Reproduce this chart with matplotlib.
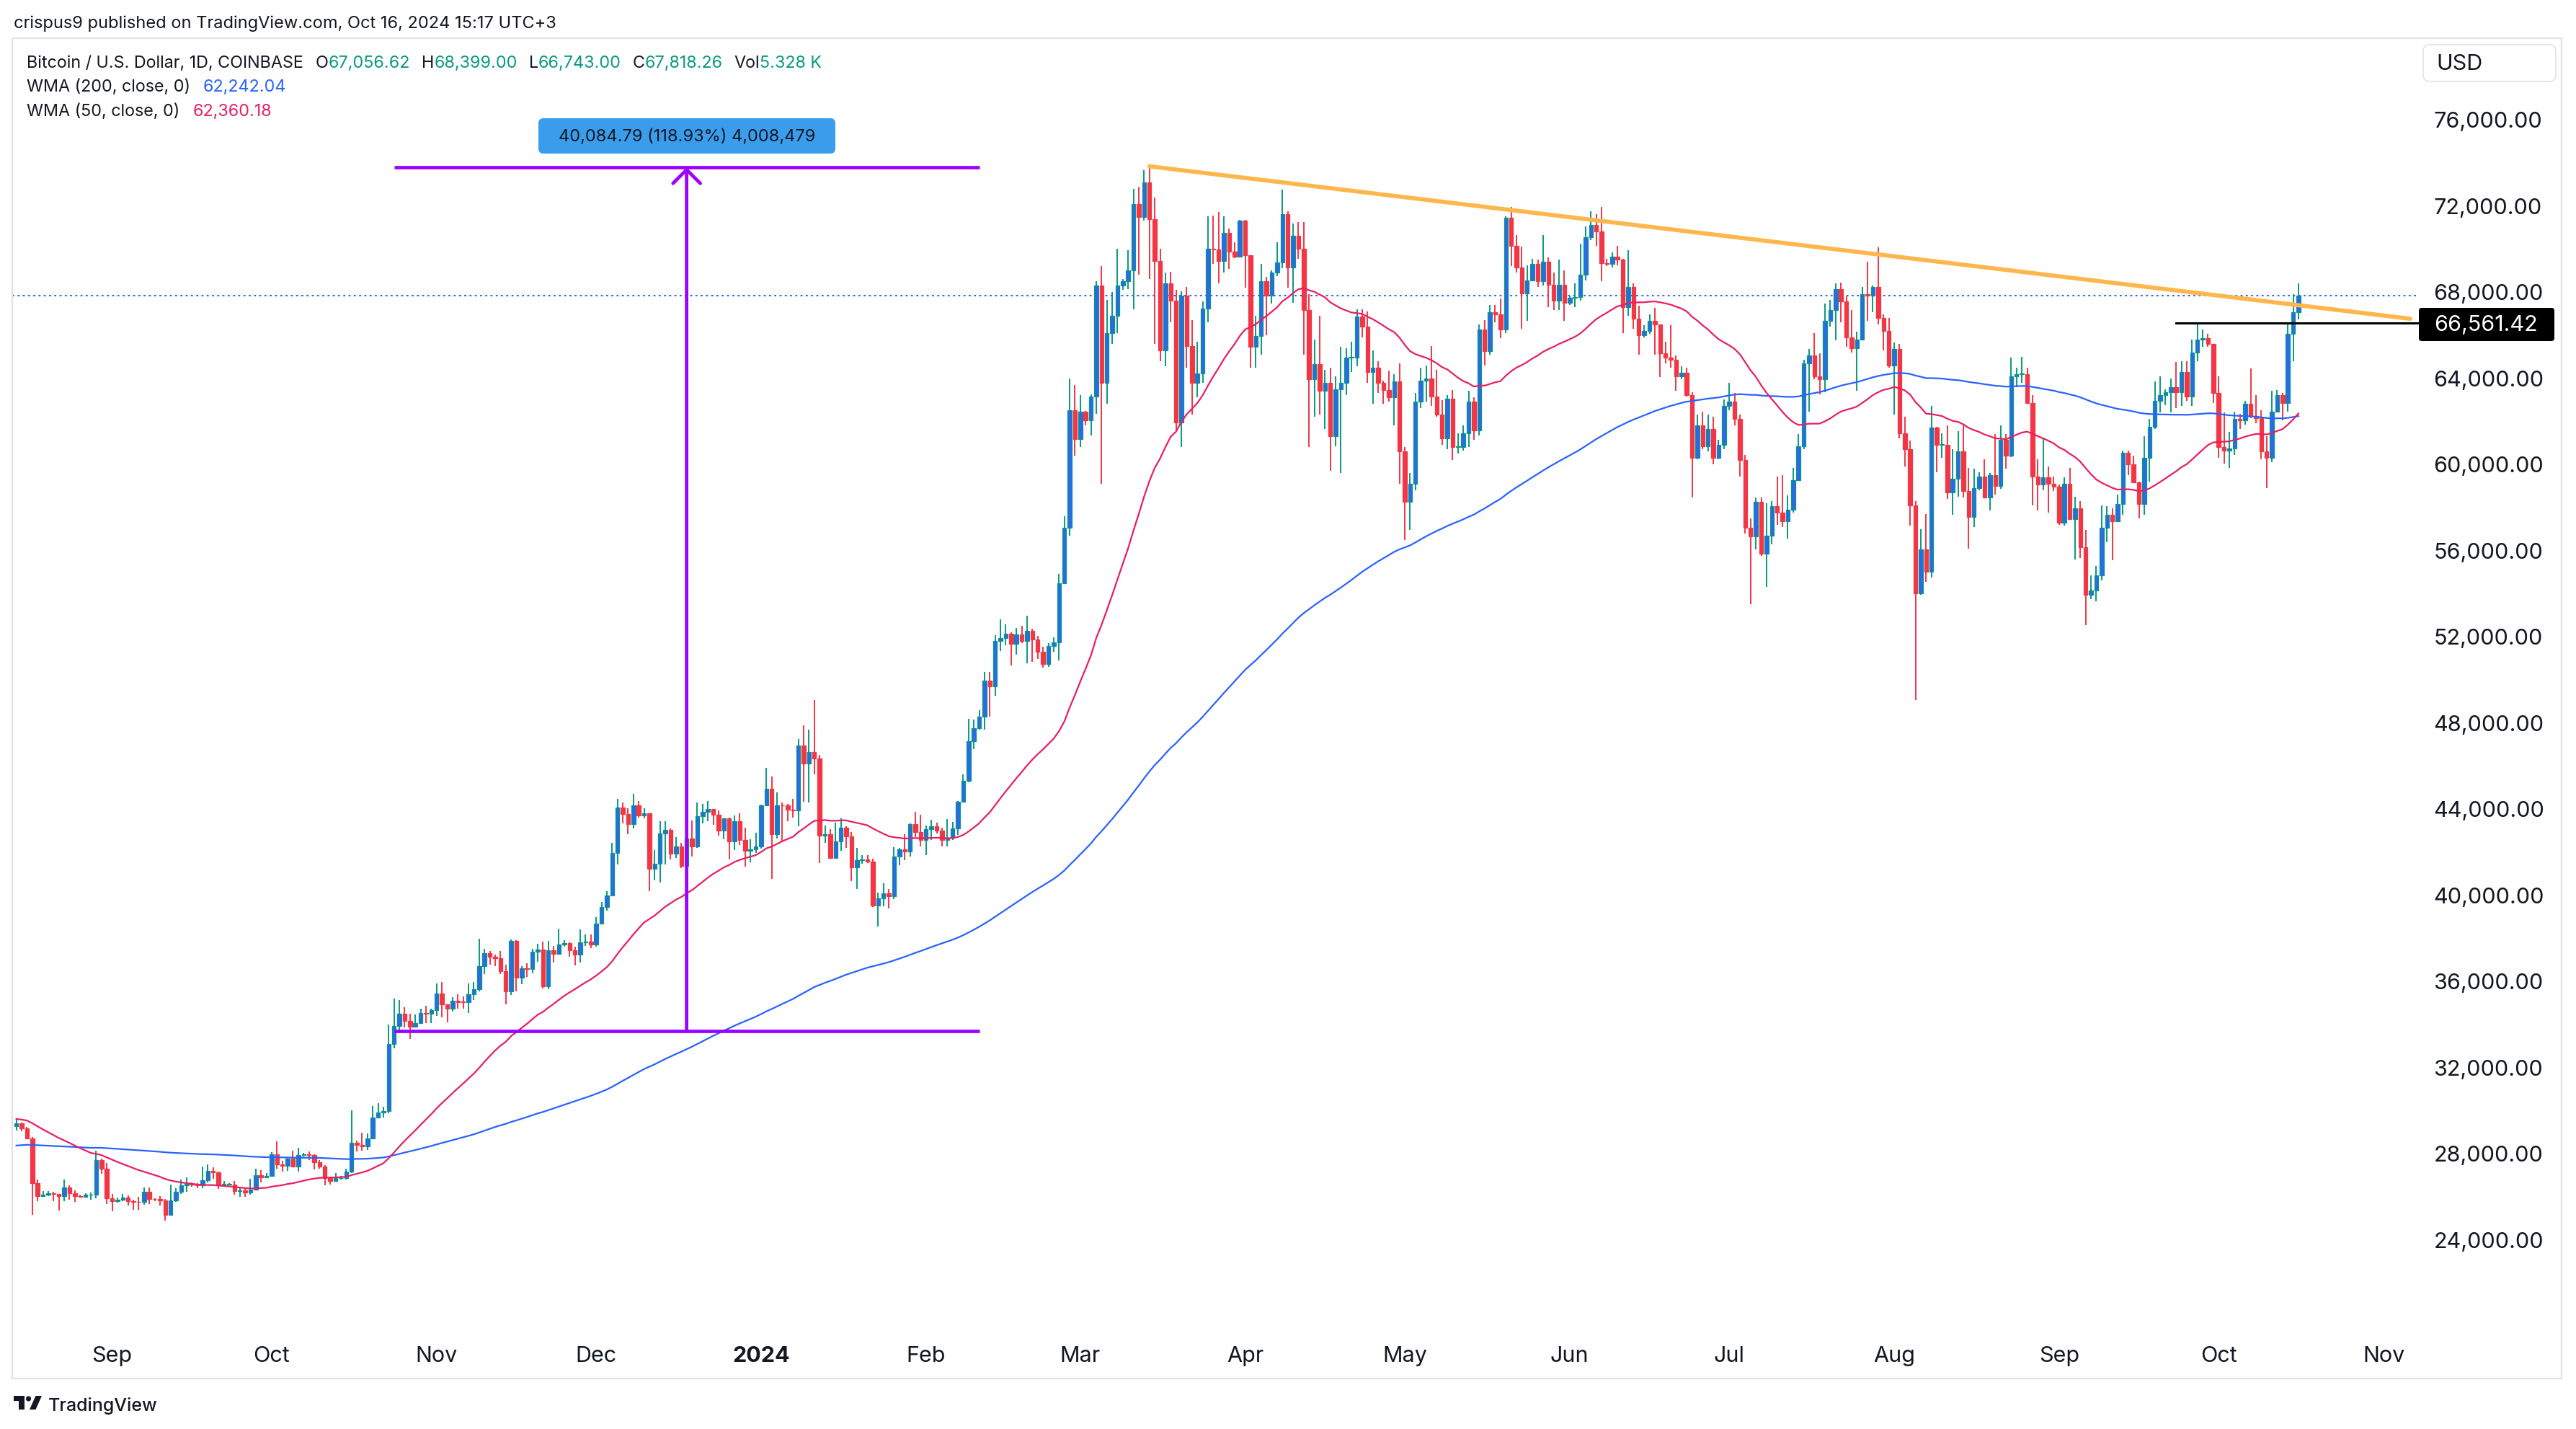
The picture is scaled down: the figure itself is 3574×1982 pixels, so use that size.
import numpy as np
import pandas as pd
import matplotlib
matplotlib.use("Agg")
import matplotlib.pyplot as plt
import matplotlib.dates as mdates
from matplotlib.patches import FancyBboxPatch, Rectangle, Circle, Polygon

FONT = ["Inter", "DejaVu Sans"]
plt.rcParams["font.family"] = FONT

# ---------------- DATA ----------------
# Daily closes before the visible window (2023-01-26 .. 2023-08-13), used only for the WMAs
pre_start = "2023-01-26"
pre_close = [
    23050, 23080, 23030, 23750, 22840, 23130,
    23730, 23490, 23430, 23330, 22930, 22760, 23250, 22960, 21800, 21630, 21860, 21790, 21780, 22200,
    24330, 23520, 24570, 24630, 24280, 24840, 24440, 24190, 23940, 23190, 23160, 23560, 23490, 23140,
    23630, 23470, 22360, 22350, 22430, 22410, 22200, 21710, 20360, 20190, 20630, 22140, 24200, 24750,
    24380, 25060, 27420, 26960, 28040, 27770, 28170, 27300, 28330, 27490, 27490, 27990, 27140, 27270,
    28350, 28030, 28480,
    28460, 28200, 27800, 28170, 28170, 28030, 27920, 27950, 28330, 29650, 30230, 29880, 30390, 30480,
    30310, 30310, 29430, 30380, 28800, 28240, 27270, 27820, 27590, 27520, 28300, 28420, 29470, 29320,
    29230, 29230,
    28070, 28680, 29030, 28850, 29530, 28900, 28450, 27690, 27630, 27620, 26990, 26800, 26780, 26930,
    27170, 27030, 27400, 26830, 26890, 27110, 26750, 26850, 27220, 26330, 26480, 26720, 26860, 28080,
    27740, 27700, 27220,
    26820, 27250, 27070, 27120, 25760, 27240, 26350, 26500, 26480, 25850, 25940, 25900, 25920, 25130,
    25590, 26340, 26510, 26340, 26850, 28310, 30000, 29890, 30690, 30550, 30470, 30270, 30690, 30080,
    30450, 30470,
    30590, 30620, 31160, 30770, 30510, 29900, 30350, 30290, 30170, 30420, 30620, 30390, 31480, 30320,
    30300, 30250, 30150, 29860, 29910, 29800, 29910, 29800, 30090, 29180, 29230, 29350, 29220, 29320,
    29360, 29280, 29230,
    29700, 29180, 29180, 29080, 29060, 29050, 29180, 29770, 29570, 29430, 29400, 29420, 29290,
]

# Visible daily candles (high, low, close); open = previous close. Starts 2023-08-14.
vis_start = "2023-08-14"
aug23 = [(29660,29090,29410),(29450,29060,29170),(29230,28690,28720),(28770,25170,26620),(26820,25800,26050),
         (26260,25990,26090),(26280,26040,26180),(26250,25810,26120),(26130,25350,26040),(26800,25800,26430),
         (26550,25860,26160),(26300,25780,26050),(26100,25990,26010),(26160,25970,26090),(26200,25880,26110),
         (28140,25920,27720),(27760,27080,27300),(27570,25680,25940)]
sep23 = [(26130,25340,25800),(25970,25720,25870),(26120,25800,25970),(26080,25600,25810),(25860,25390,25780),
         (25990,25390,25750),(26450,25620,26250),(26430,25660,25910),(25930,25800,25890),(26020,25600,25830),
         (25890,24900,25150),(26560,25130,25840),(26390,25770,26230),(26810,26130,26530),(26890,26220,26610),
         (26670,26470,26570),(26620,26400,26530),(27410,26390,26760),(27490,26680,27210),(27380,26830,27130),
         (27160,26370,26570),(26740,26480,26580),(26640,26520,26580),(26720,26100,26260),(26440,25990,26300),
         (26390,26000,26210),(26830,26100,26350),(27300,26320,27020),(27230,26670,26910),(27090,26890,26970)]
oct23 = [(28060,26950,27990),(28580,27290,27510),(27670,27180,27430),(27830,27210,27790),(28130,27370,27410),
         (28280,27180,27950),(28030,27860,27970),(28100,27710,27940),(27980,27270,27590),(27720,27300,27390),
         (27480,26550,26870),(26940,26560,26750),(27100,26700,26860),(26980,26810,26860),(27290,26810,27160),
         (30000,27110,28520),(28610,28100,28410),(28980,28150,28330),(28930,28180,28720),(30220,28680,29690),
         (30350,29680,29920),(30200,29680,29990),(34000,29890,33080),(35200,32880,33920),(35140,33700,34500),
         (34800,33880,34160),(34490,33340,33910),(34480,33870,34080),(34740,34050,34530),(34860,34080,34500),
         (34720,34080,34660)]
nov23 = [(35900,34400,35440),(35980,34340,34950),(34950,34100,34730),(35260,34600,35090),(35400,34750,35050),
         (35290,34750,35040),(35900,34540,35420),(35990,35140,35640),(37970,35550,36700),(37520,36350,37320),
         (37400,36780,37140),(37240,36720,37070),(37420,36340,36490),(36760,34950,35550),(37950,35360,37880),
         (37930,35550,36160),(36700,35870,36600),(36840,36200,36590),(37500,36370,37390),(37760,36900,37470),
         (37860,35670,35770),(37880,35650,37430),(37660,36890,37290),(38440,37260,37720),(37900,37600,37790),
         (37830,37160,37460),(37600,36750,37250),(38400,36880,37830),(38180,37630,37860),(38170,37560,37720)]
dec23 = [(38980,37620,38690),(39700,38650,39460),(40200,39280,39980),(42420,39980,41980),(44490,41420,44080),
         (44300,43350,43780),(44050,42830,43290),(44700,43090,44170),(44370,43590,43720),(44040,43560,43790),
         (43800,40200,41240),(42100,40680,41470),(43440,40580,42880),(43420,41440,43020),(43090,41660,41930),
         (42700,41730,42260),(42430,41250,41370),(42740,40530,42650),(43480,41800,42270),(44300,42200,43660),
         (44240,43320,43860),(44370,43420,43990),(44000,43280,43730),(43930,42760,43010),(43580,42600,43580),
         (43600,41650,42510),(43690,42110,43450),(43790,42320,42580),(43120,41320,42070),(42600,41540,42140),
         (42900,41970,42270)]
jan24 = [(44200,42180,44180),(45900,44170,44950),(45500,40750,42830),(44760,42630,44180),(44300,42510,44160),
         (44230,43420,43960),(44490,43600,43930),(47250,43200,46960),(47900,44350,46120),(47700,44300,46650),
         (49050,45600,46340),(46500,41500,42780),(43250,42440,42840),(43070,41720,41740),(43380,41700,42500),
         (43580,42050,43150),(43200,42200,42740),(42930,40660,41280),(42200,40280,41620),(41850,41460,41670),
         (41880,41500,41550),(41700,39460,39520),(40130,38550,39870),(40560,39480,40090),(40290,39400,39940),
         (42230,39830,41810),(42200,41400,42120),(42830,41620,42030),(43330,41800,43300),(43880,42690,42940),
         (43750,42270,42580)]
feb24 = [(43250,41880,43080),(43490,42560,43190),(43380,42880,42990),(43120,42250,42580),(43540,42260,42660),
         (43400,42580,43090),(44370,42790,44340),(45600,44330,45300),(48200,45250,47150),(48170,46800,47770),
         (48580,47700,48300),(50350,47700,49950),(50370,48300,49700),(52080,49250,51810),(52820,51330,51930),
         (52580,51600,52140),(52200,50650,51660),(52400,51180,52120),(52490,51700,51790),(52980,50750,52270),
         (52380,50830,51860),(52050,50970,51300),(51540,50560,50740),(51690,50600,51570),(51960,51290,51730),
         (54900,50900,54490),(57580,54450,57060),(64000,56700,62500),(63700,60400,61170)]
mar24 = [(63200,60800,62430),(62480,61810,62030),(63250,61330,63140),(68500,62350,68300),(69200,59100,63800),
         (67650,62800,66100),(68000,65600,66900),(70000,66100,68300),(68600,68100,68500),(69950,68150,69020),
         (72800,67200,72100),(72900,68800,71480),(73650,71330,73080),(73835,68600,71390),(72400,65600,69450),
         (70000,64800,65300),(68900,64560,68390),(68950,66600,67600),(68100,61550,61930),(68030,60800,67850),
         (68250,64500,65500),(66700,62300,63800),(65700,63100,64230),(67550,63800,67230),(71500,66600,70000),
         (71560,69300,69990),(71720,68400,69450),(71500,68900,70750),(70930,69060,69880),(70320,69560,69650),
         (71350,69630,71300)]
apr24 = [(71350,68200,69700),(69700,64500,65450),(66900,64500,65970),(69300,65100,68500),(68700,66000,67850),
         (69000,67450,68900),(70300,68750,69360),(72750,69100,71620),(71750,68200,69140),(71180,67500,70600),
         (71250,69550,70000),(71250,65100,67150),(67900,60800,63950),(65800,62200,64650),(66900,62300,63400),
         (64400,61650,63800),(64500,59700,61300),(64100,60850,63500),(65450,59600,63800),(65400,63200,64950),
         (65700,64300,64950),(67200,64550,66850),(67200,65900,66400),(67100,63800,64300),(65300,62800,64500),
         (64800,63300,63770),(63900,62800,63450),(64350,62900,63120),(64200,61800,63850),(64700,59100,60600)]
may24 = [(60800,56500,58250),(59600,56950,59100),(63300,58800,62900),(64500,62600,63900),(64600,62900,64000),
         (65500,62700,63150),(64400,62200,62300),(62980,60900,61200),(63200,60700,63050),(63450,60200,60800),
         (61450,60500,60800),(61800,60650,61450),(63400,60800,62900),(63100,61150,61560),(66500,61350,66250),
         (66700,64600,65250),(67400,65100,67050),(67400,66600,66950),(67700,65850,66250),(71500,66100,71450),
         (71950,69200,70150),(70650,68900,69150),(70100,66300,67950),(69250,66650,68550),(69550,68500,69300),
         (69500,68250,68500),(70650,68300,69400),(69600,67300,68350),(68900,67150,67600),(69500,67150,68350),
         (69000,66650,67500)]
jun24 = [(67850,67400,67750),(68400,67300,67770),(70250,67600,68800),(71050,68550,70550),(71750,70400,71100),
         (71600,70150,70800),(71950,68500,69350),(69550,69200,69300),(69850,69150,69650),(70150,69250,69500),
         (69550,66100,67300),(69950,66900,68250),(68400,66300,66750),(67350,65100,66000),(66450,65900,66200),
         (66950,66050,66650),(67250,65100,66500),(66500,64050,65150),(65700,64700,64950),(66450,64500,64850),
         (65050,63400,64100),(64550,63950,64250),(64500,63150,63200),(63350,58450,60300),(62300,60250,61800),
         (62450,60700,60850),(62300,60600,61650),(62200,60000,60300),(61150,60250,60900),(63000,60700,62700)]
jul24 = [(63800,62500,62900),(63300,61800,62100),(62300,59450,60200),(60450,56800,57050),(57500,53500,56650),
         (58450,56050,58250),(58450,55750,55850),(58200,54300,56700),(58300,56300,58050),(59450,57200,57750),
         (59500,57100,57350),(58550,56550,57900),(59850,57750,59250),(61400,59300,60850),(64850,60700,64700),
         (65350,62450,65050),(66100,63950,64100),(65150,63250,63950),(67450,63350,66650),(67650,66400,67150),
         (68400,65750,68150),(68450,66600,67550),(67800,65450,65900),(67150,65200,65400),(66150,63400,65800),
         (68250,65750,67900),(69400,66650,67850),(68300,67050,68250),(70079,66500,66800),(66950,65300,66200),
         (66800,64500,64600)]
aug24 = [(65650,62300,65350),(65600,61200,61450),(62200,59900,60700),(61100,57150,58100),(58300,49050,54000),
         (57000,53950,56050),(57700,54550,55000),(62700,54750,61700),(61750,59650,60900),(61450,60300,60900),
         (61800,58400,58700),(60700,57650,59350),(61550,58500,60600),(61800,58450,58750),(59850,56100,57550),
         (59800,57100,58900),(59650,58800,59450),(60250,58450,58450),(59600,57850,59500),(61400,58600,59000),
         (61800,58850,61150),(61400,59800,60400),(64950,60350,64100),(64500,63600,64200),(65000,63800,64200),
         (64500,62800,62850),(63200,58100,59450),(60250,57850,59050),(61200,58800,59400),(59900,57750,59100),
         (59450,58750,58950)]
sep24 = [(59050,57200,57300),(59400,57150,59100),(59850,57450,57450),(58500,55600,57950),(58300,55650,56150),
         (56950,52550,53950),(54850,53750,54150),(55300,53650,54850),(58100,54600,57050),(58050,56400,57650),
         (57950,55550,57350),(58600,57350,58150),(60650,57650,60550),(60650,59500,60000),(60400,59450,59150),
         (59200,57500,58150),(61300,57650,60300),(62100,59200,61750),(63850,61650,62950),(64100,62400,63200),
         (63500,62750,63350),(64000,62400,63600),(64750,62600,63350),(64800,62700,64300),(64800,62950,63150),
         (65800,62700,65200),(66500,64800,65800),(66250,65450,65850),(66050,65450,65600),(65600,62850,63300)]
oct24 = [(64100,60300,60800),(62400,60050,60650),(61500,59850,60750),(62450,60450,62100),(62350,61650,62050),
         (62950,61850,62800),(64450,62150,62250),(63200,61900,62150),(62500,60250,60600),(61300,58900,60300),
         (63400,60100,62450),(63450,62450,63200),(63300,62050,62850),(66500,62450,66050),(67900,64800,67056.62),
         (68399.00,66743.00,67818.26)]

volume_label = "5.328 K"
wma200_label = "62,242.04"
wma50_label = "62,360.18"

price_ticks = [24000, 28000, 32000, 36000, 40000, 44000, 48000, 52000, 56000, 60000, 64000, 68000, 72000, 76000]
month_ticks = ["2023-09-01", "2023-10-01", "2023-11-01", "2023-12-01", "2024-01-01", "2024-02-01", "2024-03-01",
               "2024-04-01", "2024-05-01", "2024-06-01", "2024-07-01", "2024-08-01", "2024-09-01", "2024-10-01",
               "2024-11-01"]
month_labels = ["Sep", "Oct", "Nov", "Dec", "2024", "Feb", "Mar", "Apr", "May", "Jun", "Jul", "Aug", "Sep", "Oct", "Nov"]

trend_dates = ["2024-03-14", "2024-11-06"]
trend_prices = [73835.0, 66760.0]
range_dates = ["2023-10-24", "2024-02-11"]
range_prices = [33704.00, 73788.79]
range_volume = "4,008,479"
level_date = "2024-09-23"
level_price = 66561.42

# ---------------- PREP ----------------
months = [aug23, sep23, oct23, nov23, dec23, jan24, feb24, mar24, apr24, may24, jun24, jul24, aug24, sep24, oct24]
rows = [r for m in months for r in m]
high = np.array([r[0] for r in rows], float)
low = np.array([r[1] for r in rows], float)
close = np.array([r[2] for r in rows], float)
opn = np.concatenate([[pre_close[-1]], close[:-1]])
high = np.maximum(high, np.maximum(opn, close))
low = np.minimum(low, np.minimum(opn, close))

dates = pd.date_range(vis_start, periods=len(close), freq="D")
x = mdates.date2num(dates)

all_close = np.concatenate([np.array(pre_close, float), close])


def wma(vals, n):
    w = np.arange(1, n + 1, dtype=float)
    out = np.full(len(vals), np.nan)
    for i in range(n - 1, len(vals)):
        out[i] = np.dot(vals[i - n + 1:i + 1], w) / w.sum()
    return out


npre = len(pre_close)
wma200 = wma(all_close, 200)[npre:]
wma50 = wma(all_close, 50)[npre:]

# ---------------- FIGURE ----------------
W, H = 3574, 1982
fig = plt.figure(figsize=(W / 100, H / 100), dpi=100)
fig.patch.set_facecolor("white")

TXT = "#131722"
GREEN = "#089981"
RED = "#F23645"
UPFACE = "#2A6AE8"
BLUE = "#2962FF"
PINK = "#E91E63"
PURPLE = "#9C00FF"

ax = fig.add_axes([17 / W, 1 - 1840 / H, (3355 - 17) / W, (1840 - 53) / H])
ax.set_facecolor("none")
for s in ax.spines.values():
    s.set_visible(False)

day0 = mdates.date2num(pd.Timestamp("2023-09-01"))
ax.set_xlim(day0 - 18.77, day0 + 433.5)
ax.set_ylim(19976, 79782)

up = close >= opn
wick_col = np.where(up, GREEN, RED)
face_col = np.where(up, UPFACE, RED)
edge_col = np.where(up, GREEN, RED)
ax.vlines(x, low, high, colors=wick_col, linewidth=1.4, zorder=2)
body_h = np.maximum(np.abs(close - opn), 25)
ax.bar(x, body_h, bottom=np.minimum(opn, close), width=0.74, color=face_col,
       edgecolor=edge_col, linewidth=0.9, zorder=3)

ax.plot(x, wma200, color=BLUE, linewidth=1.6, zorder=4)
ax.plot(x, wma50, color=PINK, linewidth=1.6, zorder=4)

# current price dotted line
ax.axhline(close[-1], color=BLUE, linewidth=1.5, linestyle=(0, (1.3, 2.2)), zorder=1)

# trend line
tx = mdates.date2num(pd.to_datetime(trend_dates))
ax.plot(tx, trend_prices, color="#FFB74D", linewidth=4.2, solid_capstyle="round", zorder=5)

# horizontal level
lx0 = mdates.date2num(pd.Timestamp(level_date))
ax.plot([lx0, ax.get_xlim()[1]], [level_price, level_price], color="black", linewidth=2.2,
        zorder=5, clip_on=False)

# price range tool
rx = mdates.date2num(pd.to_datetime(range_dates))
for p in range_prices:
    ax.plot(rx, [p, p], color=PURPLE, linewidth=3.4, zorder=6, solid_capstyle="butt")
xm = (rx[0] + rx[1]) / 2
ax.annotate("", xy=(xm, range_prices[1]), xytext=(xm, range_prices[0]),
            arrowprops=dict(arrowstyle="->,head_length=0.62,head_width=0.62", color=PURPLE,
                            lw=3.4, shrinkA=0, shrinkB=0, mutation_scale=22), zorder=6)

# axes ticks
ax.yaxis.set_ticks_position("right")
ax.set_yticks(price_ticks)
ax.set_yticklabels([f"{v:,.2f}" for v in price_ticks])
ax.tick_params(axis="y", length=0, pad=15.5, labelsize=22, labelcolor=TXT)
ax.set_xticks(mdates.date2num(pd.to_datetime(month_ticks)))
ax.set_xticklabels(month_labels)
ax.tick_params(axis="x", length=0, pad=19.5, labelsize=22, labelcolor=TXT)
for lab in ax.get_xticklabels():
    if lab.get_text() == "2024":
        lab.set_fontweight("bold")

# ---------------- OVERLAY (pixel coords) ----------------
ov = fig.add_axes([0, 0, 1, 1])
ov.set_xlim(0, W)
ov.set_ylim(H, 0)
ov.axis("off")
ov.patch.set_alpha(0)

# panel border
ov.add_patch(Rectangle((17, 53), 3554 - 17, 1912 - 53, facecolor="none", edgecolor="#E0E3EB", linewidth=1.6))

renderer = fig.canvas.get_renderer()


def rich(x0, base, parts, size):
    xx = x0
    for s, col, gap in parts:
        xx += gap
        t = ov.text(xx, base, s, color=col, fontsize=size, va="baseline", ha="left")
        bb = t.get_window_extent(renderer=renderer)
        xx += bb.width


ov.text(19, 39, "crispus9 published on TradingView.com, Oct 16, 2024 15:17 UTC+3", fontsize=17,
        color=TXT, va="baseline", ha="left")

rich(37, 94, [("Bitcoin / U.S. Dollar, 1D, COINBASE", TXT, 0),
              ("O", TXT, 17), (f"{opn[-1]:,.2f}", GREEN, 0),
              ("H", TXT, 16), (f"{high[-1]:,.2f}", GREEN, 0),
              ("L", TXT, 16), (f"{low[-1]:,.2f}", GREEN, 0),
              ("C", TXT, 16), (f"{close[-1]:,.2f}", GREEN, 0),
              ("Vol", TXT, 16), (volume_label, GREEN, 0)], 16.8)
rich(37, 127, [("WMA (200, close, 0)", TXT, 0), (wma200_label, BLUE, 18)], 16.8)
rich(37, 161, [("WMA (50, close, 0)", TXT, 0), (wma50_label, PINK, 18)], 16.8)

# range label box
diff = range_prices[1] - range_prices[0]
pct = diff / range_prices[0] * 100
ov.add_patch(FancyBboxPatch((747, 164), 412, 49, boxstyle="round,pad=0,rounding_size=7",
                            facecolor="#3A9DEC", edgecolor="none", zorder=7))
ov.text(953, 190, f"{diff:,.2f} ({pct:.2f}%) {range_volume}", fontsize=17, color=TXT,
        ha="center", va="center", zorder=8)

# USD box
ov.add_patch(FancyBboxPatch((3362, 62), 184, 51, boxstyle="round,pad=0,rounding_size=9",
                            facecolor="white", edgecolor="#E0E3EB", linewidth=1.2))
ov.text(3380, 89, "USD", fontsize=22, color=TXT, ha="left", va="center")

# level price label
ov.add_patch(FancyBboxPatch((3356, 427), 188, 46, boxstyle="round,pad=0,rounding_size=4",
                            facecolor="black", edgecolor="none", zorder=7))
ov.text(3377, 451, f"{level_price:,.2f}", fontsize=22, color="white", ha="left", va="center", zorder=8)

# TradingView logo
ov.add_patch(Rectangle((19, 1936), 15, 6.5, facecolor=TXT, edgecolor="none"))
ov.add_patch(Rectangle((26, 1936), 8, 19, facecolor=TXT, edgecolor="none"))
ov.add_patch(Circle((39.5, 1940), 3.6, facecolor=TXT, edgecolor="none"))
ov.add_patch(Polygon([(41, 1955), (49.5, 1955), (58, 1936), (49.5, 1936)], closed=True,
                     facecolor=TXT, edgecolor="none"))
ov.text(67, 1957, "TradingView", fontsize=18, color=TXT, ha="left", va="baseline", fontweight="medium")

fig.savefig("out.png", dpi=100, facecolor="white")
